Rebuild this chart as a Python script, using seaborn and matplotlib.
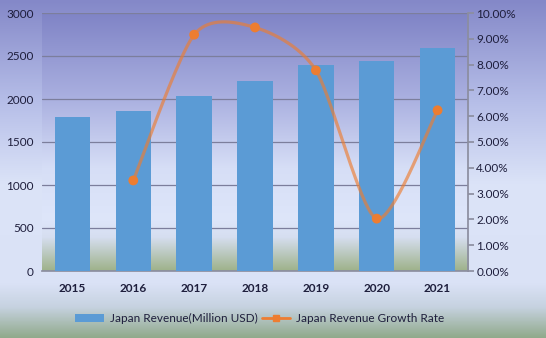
import numpy as np
import pandas as pd
import matplotlib
matplotlib.use("Agg")
import matplotlib.pyplot as plt
import seaborn as sns
from matplotlib.patches import Patch
from matplotlib.lines import Line2D
from matplotlib.colors import LinearSegmentedColormap
from matplotlib.ticker import FuncFormatter

years = ["2015", "2016", "2017", "2018", "2019", "2020", "2021"]
revenue = [1795, 1858, 2030, 2215, 2395, 2440, 2590]
growth_years = ["2016", "2017", "2018", "2019", "2020", "2021"]
growth = [3.51, 9.16, 9.44, 7.78, 2.03, 6.23]

bar_label = "Japan Revenue(Million USD)"
line_label = "Japan Revenue Growth Rate"
right_ticks = [0, 1, 2, 3, 4, 5, 6, 7, 8, 9, 10]

sns.set_theme(style="white")
plt.rcParams["font.family"] = ["Lato", "DejaVu Sans"]
TXT = "#1e1e3c"

W, H = 546, 338
fig = plt.figure(figsize=(W / 100, H / 100), dpi=100)

def grad(stops):
    cm = LinearSegmentedColormap.from_list("g", [(p, tuple(c / 255 for c in col)) for p, col in stops])
    return cm(np.linspace(0, 1, 256))[:, None, :3]

bg = fig.add_axes([0, 0, 1, 1], zorder=-10)
bg.imshow(grad([(0.0, (132, 136, 200)), (0.3, (182, 190, 232)), (0.55, (220, 228, 248)),
                (0.84, (218, 226, 246)), (0.91, (198, 210, 224)), (1.0, (145, 170, 140))]),
          aspect="auto", extent=[0, 1, 0, 1])
bg.axis("off")

pos = [42 / W, 1 - 271 / H, (468 - 42) / W, (271 - 13) / H]
pbg = fig.add_axes(pos, zorder=-5)
pbg.imshow(grad([(0.0, (128, 132, 198)), (0.33, (170, 176, 224)), (0.6, (214, 222, 246)),
                 (0.8, (222, 230, 250)), (0.87, (214, 222, 240)), (1.0, (158, 178, 138))]),
           aspect="auto", extent=[0, 1, 0, 1])
pbg.axis("off")

ax = fig.add_axes(pos)
ax.set_facecolor("none")
df = pd.DataFrame({"year": years, "revenue": revenue})
sns.barplot(data=df, x="year", y="revenue", color="#5b9bd5", saturation=1, width=0.58,
            linewidth=0, edgecolor="none", ax=ax, zorder=3)
ax.set_ylim(0, 3000)
ax.set_yticks([0, 500, 1000, 1500, 2000, 2500, 3000])
ax.set_xlim(-0.5, len(years) - 0.5)
ax.yaxis.grid(True, color="#7c7e9c", linewidth=0.9, zorder=0)
ax.set_axisbelow(True)
ax.set_xlabel("")
ax.set_ylabel("")
for s in ["top", "left", "right"]:
    ax.spines[s].set_visible(False)
ax.spines["bottom"].set_color("#8c8ea0")
ax.tick_params(axis="both", length=0, labelsize=8.5, colors=TXT, pad=6)
ax.tick_params(axis="x", pad=9)
for t in ax.get_xticklabels():
    t.set_fontweight("bold")

ax2 = ax.twinx()
ax2.set_ylim(0, 10)
ax2.set_yticks(right_ticks)
ax2.yaxis.set_major_formatter(FuncFormatter(lambda v, p: f"{v:.2f}%"))
ax2.tick_params(axis="y", length=4, color="#8c8ea0", labelsize=8.5, colors=TXT, pad=2)
for s in ["top", "left", "bottom"]:
    ax2.spines[s].set_visible(False)
ax2.spines["right"].set_color("#8c8ea0")
ax2.grid(False)

# smoothed line (Excel-style Bezier smoothing)
xi = np.array([years.index(y) for y in growth_years], dtype=float)
yi = np.array(growth, dtype=float)
f = 0.13
P = np.column_stack([xi, yi])
Pext = np.vstack([P[0], P, P[-1]])
curve = []
t = np.linspace(0, 1, 40)[:, None]
for i in range(len(P) - 1):
    p0, p1, p2, p3 = Pext[i], Pext[i + 1], Pext[i + 2], Pext[i + 3]
    c1 = p1 + (p2 - p0) * f
    c2 = p2 - (p3 - p1) * f
    seg = (1 - t) ** 3 * p1 + 3 * (1 - t) ** 2 * t * c1 + 3 * (1 - t) * t ** 2 * c2 + t ** 3 * p2
    curve.append(seg)
curve = np.vstack(curve)
ax2.plot(curve[:, 0], curve[:, 1], color="#ed7d31", lw=2.3, alpha=0.65, zorder=4)
sns.scatterplot(x=xi, y=yi, ax=ax2, color="#ed7d31", marker="o", s=50, edgecolor="none", zorder=5, legend=False)

handles = [Patch(facecolor="#5b9bd5", edgecolor="none"),
           Line2D([0], [0], color="#ed7d31", lw=2, marker="s", markersize=5)]
fig.legend(handles, [bar_label, line_label], loc="center", bbox_to_anchor=(0.476, 0.058),
           ncol=2, frameon=False, fontsize=8.5, labelcolor=TXT, handlelength=2.4,
           handletextpad=0.5, columnspacing=0.4)

fig.savefig("out.png", dpi=100)
